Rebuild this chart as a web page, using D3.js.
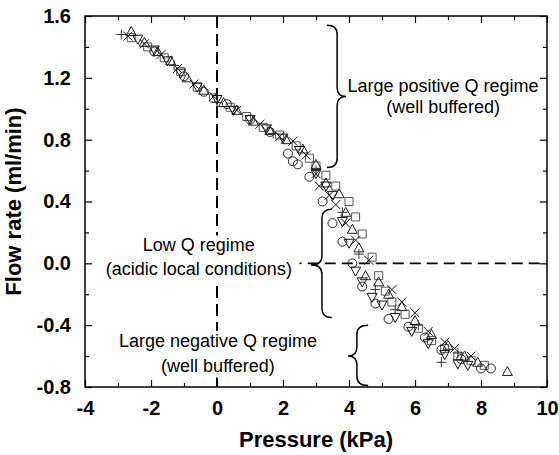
<!DOCTYPE html>
<html>
<head>
<meta charset="utf-8">
<script src="https://cdn.jsdelivr.net/npm/d3@7"></script>
<style>
  body { margin: 0; background: #fff; }
  svg { display: block; font-family: "Liberation Sans", Arial, sans-serif; }
</style>
</head>
<body>
<div id="chart"></div>
<script>
// Data: [pressure kPa, flow ml/min]
const squares = [[-2.6,1.46],[-2.1,1.40],[-1.6,1.33],[-1.1,1.24],[-0.6,1.14],[-0.1,1.07],[0.4,1.01],[0.9,0.95],[1.4,0.88],[1.9,0.83],[2.4,0.76],[2.8,0.68],[3.0,0.63],[3.3,0.57],[3.6,0.50],[4.0,0.40],[4.2,0.30],[4.4,0.19],[4.7,0.04],[4.9,-0.08],[5.1,-0.18],[5.3,-0.25],[5.7,-0.33],[6.1,-0.42],[6.5,-0.50],[6.9,-0.55],[7.3,-0.60],[7.7,-0.63],[8.1,-0.66]];
const circles = [[-1.9,1.37],[-1.0,1.21],[-0.4,1.11],[0.3,1.03],[1.0,0.93],[1.6,0.85],[2.15,0.71],[2.3,0.66],[2.45,0.64],[2.8,0.56],[3.2,0.40],[3.5,0.26],[3.8,0.14],[4.1,0.0],[4.4,-0.15],[4.8,-0.26],[5.2,-0.36],[5.8,-0.41],[6.3,-0.48],[6.8,-0.56],[7.4,-0.62],[8.0,-0.68],[8.3,-0.68]];
const trianglesUp = [[-2.6,1.50],[-2.2,1.43],[-1.8,1.37],[-1.4,1.31],[-0.9,1.20],[-0.4,1.12],[0.2,1.04],[0.6,0.99],[1.1,0.92],[1.6,0.86],[2.1,0.80],[2.6,0.74],[3.0,0.64],[3.3,0.52],[3.7,0.45],[3.9,0.33],[4.1,0.22],[4.3,0.10],[4.5,-0.08],[4.9,-0.12],[5.2,-0.20],[5.6,-0.28],[6.0,-0.37],[6.5,-0.46],[7.0,-0.53],[7.5,-0.60],[7.9,-0.64],[8.8,-0.70]];
const trianglesDown = [[-2.4,1.45],[-1.9,1.38],[-1.5,1.31],[-1.1,1.23],[-0.6,1.14],[0.0,1.06],[0.5,0.99],[1.0,0.93],[1.5,0.87],[2.0,0.81],[2.5,0.73],[3.0,0.58],[3.3,0.50],[3.5,0.44],[3.8,0.27],[4.0,0.13],[4.2,-0.05],[4.4,-0.12],[4.7,-0.22],[5.0,-0.27],[5.4,-0.35],[5.9,-0.44],[6.4,-0.52],[6.9,-0.59],[7.3,-0.65],[7.6,-0.66]];
const crosses = [[-2.7,1.47],[-2.2,1.42],[-1.7,1.35],[-1.2,1.26],[-0.7,1.16],[-0.1,1.08],[0.6,0.99],[1.3,0.90],[1.9,0.82],[2.3,0.79],[2.7,0.70],[3.0,0.58],[3.1,0.50],[3.4,0.44],[3.6,0.38],[3.9,0.26],[4.2,0.15],[4.6,0.02],[5.3,-0.17],[5.6,-0.25],[6.0,-0.32],[6.4,-0.44],[6.9,-0.51],[7.2,-0.55],[7.7,-0.60]];
const pluses = [[-2.9,1.48],[-1.3,1.28],[0.0,1.04],[1.7,0.84],[3.0,0.60],[3.8,0.33],[4.3,0.06],[4.8,-0.17],[5.4,-0.30],[6.1,-0.40],[6.8,-0.64],[7.3,-0.58]];

const xTicks = [-4, -2, 0, 2, 4, 6, 8, 10];
const yTicks = [-0.8, -0.4, 0.0, 0.4, 0.8, 1.2, 1.6];

const W = 559, H = 455;
const margin = { top: 16, right: 12, bottom: 68, left: 85 };
const width = W - margin.left - margin.right;
const height = H - margin.top - margin.bottom;

const svg = d3.select("#chart").append("svg")
    .attr("width", W)
    .attr("height", H);

const g = svg.append("g")
    .attr("transform", `translate(${margin.left},${margin.top})`);

const x = d3.scaleLinear().domain([-4, 10]).range([0, width]);
const y = d3.scaleLinear().domain([-0.8, 1.6]).range([height, 0]);

// dashed reference lines
g.append("line")
    .attr("x1", x(0)).attr("x2", x(0))
    .attr("y1", y(1.6)).attr("y2", y(-0.8))
    .attr("stroke", "#000").attr("stroke-width", 2)
    .attr("stroke-dasharray", "12,6");

g.append("line")
    .attr("x1", x(2.5)).attr("x2", x(2.56))
    .attr("y1", y(0)).attr("y2", y(0))
    .attr("stroke", "#000").attr("stroke-width", 1.6);
g.append("line")
    .attr("x1", x(2.75)).attr("x2", x(10))
    .attr("y1", y(0)).attr("y2", y(0))
    .attr("stroke", "#000").attr("stroke-width", 1.6)
    .attr("stroke-dasharray", "11,6");

// annotation texts with white background
function label(lines, cx, baselines) {
    const grp = g.append("g");
    lines.forEach((t, i) => {
        grp.append("text")
            .attr("x", x(cx))
            .attr("y", y(baselines[i]))
            .attr("text-anchor", "middle")
            .style("font-size", "18px")
            .text(t);
    });
    const bb = grp.node().getBBox();
    grp.insert("rect", "text")
        .attr("x", bb.x - 2).attr("y", bb.y)
        .attr("width", bb.width + 4).attr("height", bb.height + 2)
        .attr("fill", "#fff");
}
label(["Low Q regime", "(acidic local conditions)"], -0.55, [0.077, -0.077]);
label(["Large negative Q regime", "(well buffered)"], 0.03, [-0.54, -0.70]);
label(["Large positive Q regime", "(well buffered)"], 6.85, [1.11, 0.97]);

// curly braces
function brace(xh, xv, xt, y1, ym, y2) {
    const r = 9;
    const X = x(xv), Xh = x(xh), Xt = x(xt);
    const Y1 = y(y1), Ym = y(ym), Y2 = y(y2);
    const s = Y2 > Y1 ? 1 : -1;
    const p = d3.path();
    p.moveTo(Xh, Y1);
    p.quadraticCurveTo(X, Y1, X, Y1 + s * r);
    p.lineTo(X, Ym - s * r);
    p.quadraticCurveTo(X, Ym, Xt, Ym);
    p.quadraticCurveTo(X, Ym, X, Ym + s * r);
    p.lineTo(X, Y2 - s * r);
    p.quadraticCurveTo(X, Y2, Xh, Y2);
    g.append("path")
        .attr("d", p.toString())
        .attr("fill", "none")
        .attr("stroke", "#000")
        .attr("stroke-width", 1.5);
}
brace(3.33, 3.64, 3.91, 1.54, 1.08, 0.62);
brace(3.48, 3.18, 2.85, 0.35, -0.01, -0.35);
brace(4.58, 4.24, 3.97, -0.40, -0.60, -0.79);

// markers
const sym = {
    square: "M-4,-4H4V4H-4Z",
    circle: "M4.5,0A4.5,4.5,0,1,1,-4.5,0A4.5,4.5,0,1,1,4.5,0Z",
    up: "M0,-5L5,4H-5Z",
    down: "M0,5L5,-4H-5Z",
    cross: "M-4.5,-4.5L4.5,4.5M-4.5,4.5L4.5,-4.5",
    plus: "M-5,0H5M0,-5V5"
};
const series = [
    { data: squares, shape: sym.square, color: "#555" },
    { data: circles, shape: sym.circle, color: "#222" },
    { data: trianglesUp, shape: sym.up, color: "#222" },
    { data: trianglesDown, shape: sym.down, color: "#111" },
    { data: crosses, shape: sym.cross, color: "#111" },
    { data: pluses, shape: sym.plus, color: "#333" }
];
series.forEach(s => {
    g.append("g").selectAll("path")
        .data(s.data)
        .join("path")
        .attr("transform", d => `translate(${x(d[0])},${y(d[1])})`)
        .attr("d", s.shape)
        .attr("fill", "none")
        .attr("stroke", s.color)
        .attr("stroke-width", 1);
});

// axes with inward ticks on all four sides
const fmtX = d => String(d);
const fmtY = d => d3.format(".1f")(d).replace("−", "-");
const xMinor = d3.range(-3, 10, 2);
const yMinor = d3.range(-0.6, 1.6, 0.4);

function ticks(axisFn, scale, vals, len, labels) {
    return axisFn(scale).tickValues(vals).tickSizeInner(-len).tickSizeOuter(0)
        .tickPadding(labels ? 14 : 0)
        .tickFormat(labels ? labels : "");
}

g.append("g").attr("class", "axis").attr("transform", `translate(0,${height})`)
    .call(ticks(d3.axisBottom, x, xTicks, 7, fmtX));
g.append("g").attr("class", "axis").attr("transform", `translate(0,${height})`)
    .call(ticks(d3.axisBottom, x, xMinor, 4, null));
g.append("g").attr("class", "axis")
    .call(ticks(d3.axisTop, x, xTicks, 7, null));
g.append("g").attr("class", "axis")
    .call(ticks(d3.axisTop, x, xMinor, 4, null));

g.append("g").attr("class", "axis")
    .call(ticks(d3.axisLeft, y, yTicks, 7, fmtY));
g.append("g").attr("class", "axis")
    .call(ticks(d3.axisLeft, y, yMinor, 4, null));
g.append("g").attr("class", "axis").attr("transform", `translate(${width},0)`)
    .call(ticks(d3.axisRight, y, yTicks, 7, null));
g.append("g").attr("class", "axis").attr("transform", `translate(${width},0)`)
    .call(ticks(d3.axisRight, y, yMinor, 4, null));

g.selectAll(".axis .domain").remove();
g.selectAll(".axis line").attr("stroke", "#000").attr("stroke-width", 1.2);
g.selectAll(".axis text")
    .style("font-size", "20px")
    .style("font-weight", "bold")
    .style("font-family", "Liberation Sans, Arial, sans-serif")
    .attr("fill", "#000");

// frame
g.append("rect")
    .attr("width", width).attr("height", height)
    .attr("fill", "none").attr("stroke", "#000").attr("stroke-width", 1.5);

// axis titles
g.append("text")
    .attr("x", width / 2).attr("y", height + 60)
    .attr("text-anchor", "middle")
    .style("font-size", "22px").style("font-weight", "bold")
    .text("Pressure (kPa)");

g.append("text")
    .attr("transform", `translate(${-64},${height / 2}) rotate(-90)`)
    .attr("text-anchor", "middle")
    .style("font-size", "22px").style("font-weight", "bold")
    .text("Flow rate (ml/min)");
</script>
</body>
</html>
